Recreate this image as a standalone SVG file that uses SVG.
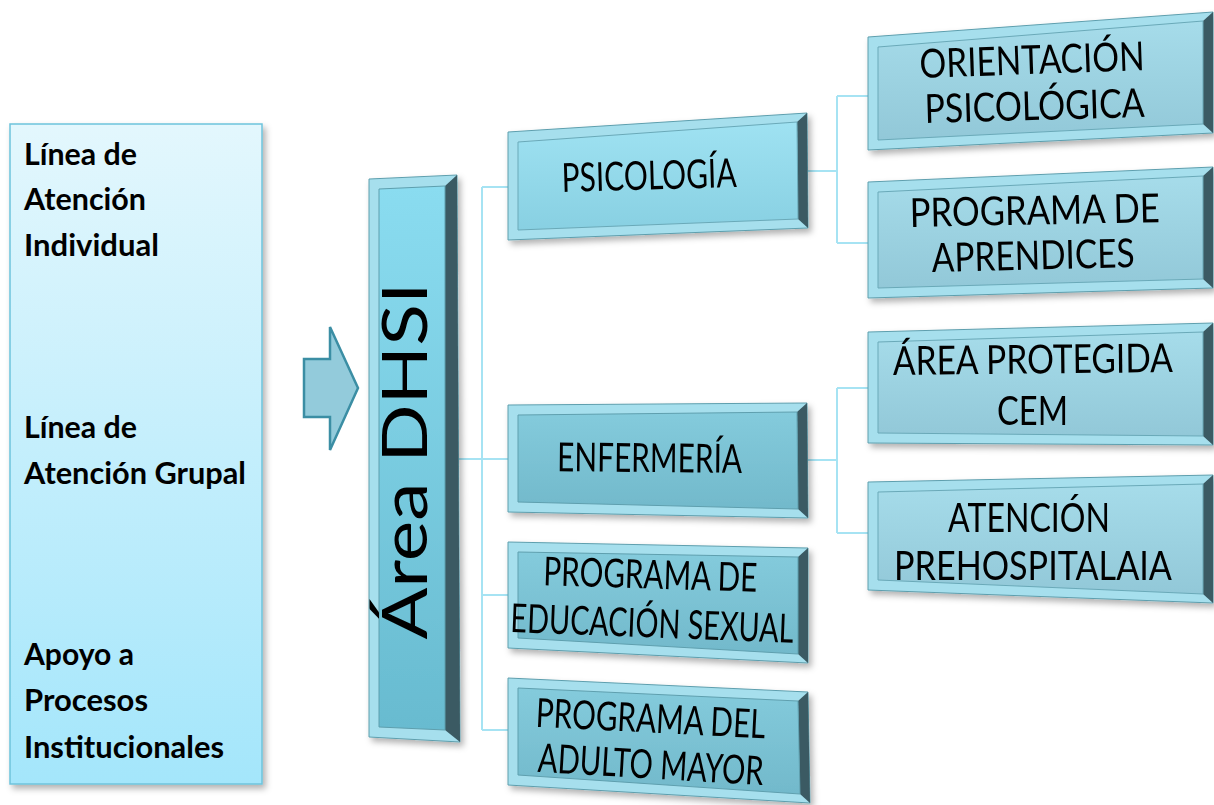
<svg xmlns="http://www.w3.org/2000/svg" width="1214" height="805" viewBox="0 0 1214 805">
<style>
.lt{font-family:Lato,"Liberation Sans",sans-serif;font-weight:bold;font-size:31px;fill:#000}
.bt{font-family:Lato,"Liberation Sans",sans-serif;font-size:40px;fill:#000;text-anchor:middle}
.bev{fill:#a6dfed;stroke:#5e9fae;stroke-width:1}
.dark{fill:#3a5a63}
.f1{fill:url(#g1);stroke:#6aa9b8;stroke-width:1}
.f2{fill:url(#g2);stroke:#5f9fae;stroke-width:1}
.f3{fill:url(#g3);stroke:#6aa9b8;stroke-width:1}
</style>
<defs>
<linearGradient id="gl" x1="0" y1="0" x2="0" y2="1"><stop offset="0" stop-color="#e3f7fd"/><stop offset="1" stop-color="#a4e6fb"/></linearGradient>
<linearGradient id="gb" x1="0" y1="0" x2="0" y2="1"><stop offset="0" stop-color="#8adcf0"/><stop offset="1" stop-color="#68bbd0"/></linearGradient>
<linearGradient id="g1" x1="0" y1="0" x2="0" y2="1"><stop offset="0" stop-color="#9fe2f2"/><stop offset="1" stop-color="#88d0e2"/></linearGradient>
<linearGradient id="g2" x1="0" y1="0" x2="0" y2="1"><stop offset="0" stop-color="#84cbdc"/><stop offset="1" stop-color="#72b9cb"/></linearGradient>
<linearGradient id="g3" x1="0" y1="0" x2="0" y2="1"><stop offset="0" stop-color="#a6dcea"/><stop offset="1" stop-color="#92c8d8"/></linearGradient>
<filter id="sh" x="-10%" y="-10%" width="120%" height="130%"><feDropShadow dx="3" dy="4" stdDeviation="3" flood-color="#000" flood-opacity="0.3"/></filter>
</defs>
<rect width="1214" height="805" fill="#fff"/>

<g id="left-box">
<rect x="10" y="124" width="252" height="660" fill="url(#gl)" stroke="#6ec3dc" stroke-width="1.5" filter="url(#sh)"/>
<text class="lt" x="24" y="165" textLength="113" lengthAdjust="spacingAndGlyphs">Línea de</text>
<text class="lt" x="24" y="210" textLength="122" lengthAdjust="spacingAndGlyphs">Atención</text>
<text class="lt" x="24" y="256" textLength="135" lengthAdjust="spacingAndGlyphs">Individual</text>
<text class="lt" x="24" y="438" textLength="113" lengthAdjust="spacingAndGlyphs">Línea de</text>
<text class="lt" x="24" y="484" textLength="222" lengthAdjust="spacingAndGlyphs">Atención Grupal</text>
<text class="lt" x="24" y="665" textLength="110" lengthAdjust="spacingAndGlyphs">Apoyo a</text>
<text class="lt" x="24" y="711" textLength="124" lengthAdjust="spacingAndGlyphs">Procesos</text>
<text class="lt" x="24" y="758" textLength="200" lengthAdjust="spacingAndGlyphs">Institucionales</text>
</g>

<g id="arrow">
<polygon points="304,359 330,359 330,327 358,388 330,450 330,417 304,417" fill="#93cbdb" stroke="#3b8ea4" stroke-width="2.5" stroke-linejoin="miter"/>
</g>

<g id="connectors" stroke="#a6e3f3" stroke-width="2" fill="none">
<path d="M457,459 H482 M482,187 V730 M482,187 H508 M482,459 H508 M482,595 H508 M482,730 H508"/>
<path d="M808,171 H837 M837,96 V243 M837,96 H868 M837,243 H868"/>
<path d="M808,460 H837 M837,388 V533 M837,388 H868 M837,533 H868"/>
</g>

<g id="area-dhsi" filter="url(#sh)">
<polygon class="bev" points="369,179 457,175 460,742 369,737"/>
<polygon class="dark" points="457,175 460,742 445,730 445,186"/>
<polygon points="379,189 445,186 445,730 379,727" fill="url(#gb)" stroke="#5e9fae" stroke-width="1"/>
<text transform="translate(427,461) rotate(-90)" x="0" y="0" text-anchor="middle" font-family="Lato,'Liberation Sans',sans-serif" font-size="62" fill="#000" textLength="357" lengthAdjust="spacingAndGlyphs">Área DHSI</text>
</g>

<g id="psicologia" filter="url(#sh)">
<polygon class="bev" points="508,132 807,113 808,228 508,240"/>
<polygon class="dark" points="807,113 808,228 798,219 797,122"/>
<polygon class="f1" points="518,142 797,122 798,219 518,230"/>
<text class="bt" x="649.5" y="189.5" font-size="36" transform="rotate(-1.6 649.5 189.5)" textLength="175" lengthAdjust="spacingAndGlyphs">PSICOLOGÍA</text>
</g>

<g id="enfermeria" filter="url(#sh)">
<polygon class="bev" points="508,405 807,403 808,518 508,512"/>
<polygon class="dark" points="807,403 808,518 798,509 797,412"/>
<polygon class="f2" points="518,415 797,412 798,509 518,502"/>
<text class="bt" x="649.5" y="472" font-size="36" transform="rotate(0.5 649.5 472)" textLength="185" lengthAdjust="spacingAndGlyphs">ENFERMERÍA</text>
</g>

<g id="educacion-sexual" filter="url(#sh)">
<polygon class="bev" points="508,542 808,548 808,663 508,648"/>
<polygon class="dark" points="808,548 808,663 798,654 798,557"/>
<polygon class="f2" points="518,552 798,557 798,654 518,638"/>
<text class="bt" x="650" y="588.5" font-size="30" transform="rotate(1.8 650 588.5)" textLength="214" lengthAdjust="spacingAndGlyphs">PROGRAMA DE</text>
<text class="bt" x="651.5" y="637.5" font-size="31" transform="rotate(2.2 651.5 637.5)" textLength="283" lengthAdjust="spacingAndGlyphs">EDUCACIÓN SEXUAL</text>
</g>

<g id="adulto-mayor" filter="url(#sh)">
<polygon class="bev" points="508,678 808,692 810,803 508,785"/>
<polygon class="dark" points="808,692 810,803 800,794 798,701"/>
<polygon class="f2" points="518,688 798,701 800,794 518,775"/>
<text class="bt" x="650" y="732.5" font-size="33" transform="rotate(2.9 650 732.5)" textLength="230" lengthAdjust="spacingAndGlyphs">PROGRAMA DEL</text>
<text class="bt" x="650" y="778.5" font-size="33" transform="rotate(3.4 650 778.5)" textLength="226" lengthAdjust="spacingAndGlyphs">ADULTO MAYOR</text>
</g>

<g id="orientacion" filter="url(#sh)">
<polygon class="bev" points="868,37 1213,12 1213,133 868,150"/>
<polygon class="dark" points="1213,12 1213,133 1203,124 1203,21"/>
<polygon class="f3" points="878,47 1203,21 1203,124 878,140"/>
<text class="bt" x="1032.5" y="74" font-size="46" transform="rotate(-2 1032.5 74)" textLength="225" lengthAdjust="spacingAndGlyphs">ORIENTACIÓN</text>
<text class="bt" x="1035" y="120" font-size="46" transform="rotate(-1.6 1035 120)" textLength="220" lengthAdjust="spacingAndGlyphs">PSICOLÓGICA</text>
</g>

<g id="aprendices" filter="url(#sh)">
<polygon class="bev" points="868,182 1213,167 1213,288 868,298"/>
<polygon class="dark" points="1213,167 1213,288 1203,279 1203,176"/>
<polygon class="f3" points="878,192 1203,176 1203,279 878,288"/>
<text class="bt" x="1035" y="224.5" font-size="45" transform="rotate(-1.1 1035 224.5)" textLength="250" lengthAdjust="spacingAndGlyphs">PROGRAMA DE</text>
<text class="bt" x="1033.5" y="269.5" font-size="45" transform="rotate(-1.4 1033.5 269.5)" textLength="203" lengthAdjust="spacingAndGlyphs">APRENDICES</text>
</g>

<g id="area-protegida" filter="url(#sh)">
<polygon class="bev" points="868,332 1213,323 1213,445 868,443"/>
<polygon class="dark" points="1213,323 1213,445 1203,436 1203,332"/>
<polygon class="f3" points="878,342 1203,332 1203,436 878,433"/>
<text class="bt" x="1033" y="373.5" font-size="37" transform="rotate(-0.6 1033 373.5)" textLength="280" lengthAdjust="spacingAndGlyphs">ÁREA PROTEGIDA</text>
<text class="bt" x="1032.5" y="425" font-size="45" textLength="71" lengthAdjust="spacingAndGlyphs">CEM</text>
</g>

<g id="atencion-prehospitalaria" filter="url(#sh)">
<polygon class="bev" points="868,482 1213,475 1213,603 868,590"/>
<polygon class="dark" points="1213,475 1213,603 1203,594 1203,484"/>
<polygon class="f3" points="878,492 1203,484 1203,594 878,580"/>
<text class="bt" x="1029" y="532" font-size="45" textLength="162" lengthAdjust="spacingAndGlyphs">ATENCIÓN</text>
<text class="bt" x="1033" y="580" font-size="37" textLength="278" lengthAdjust="spacingAndGlyphs">PREHOSPITALAIA</text>
</g>
</svg>
